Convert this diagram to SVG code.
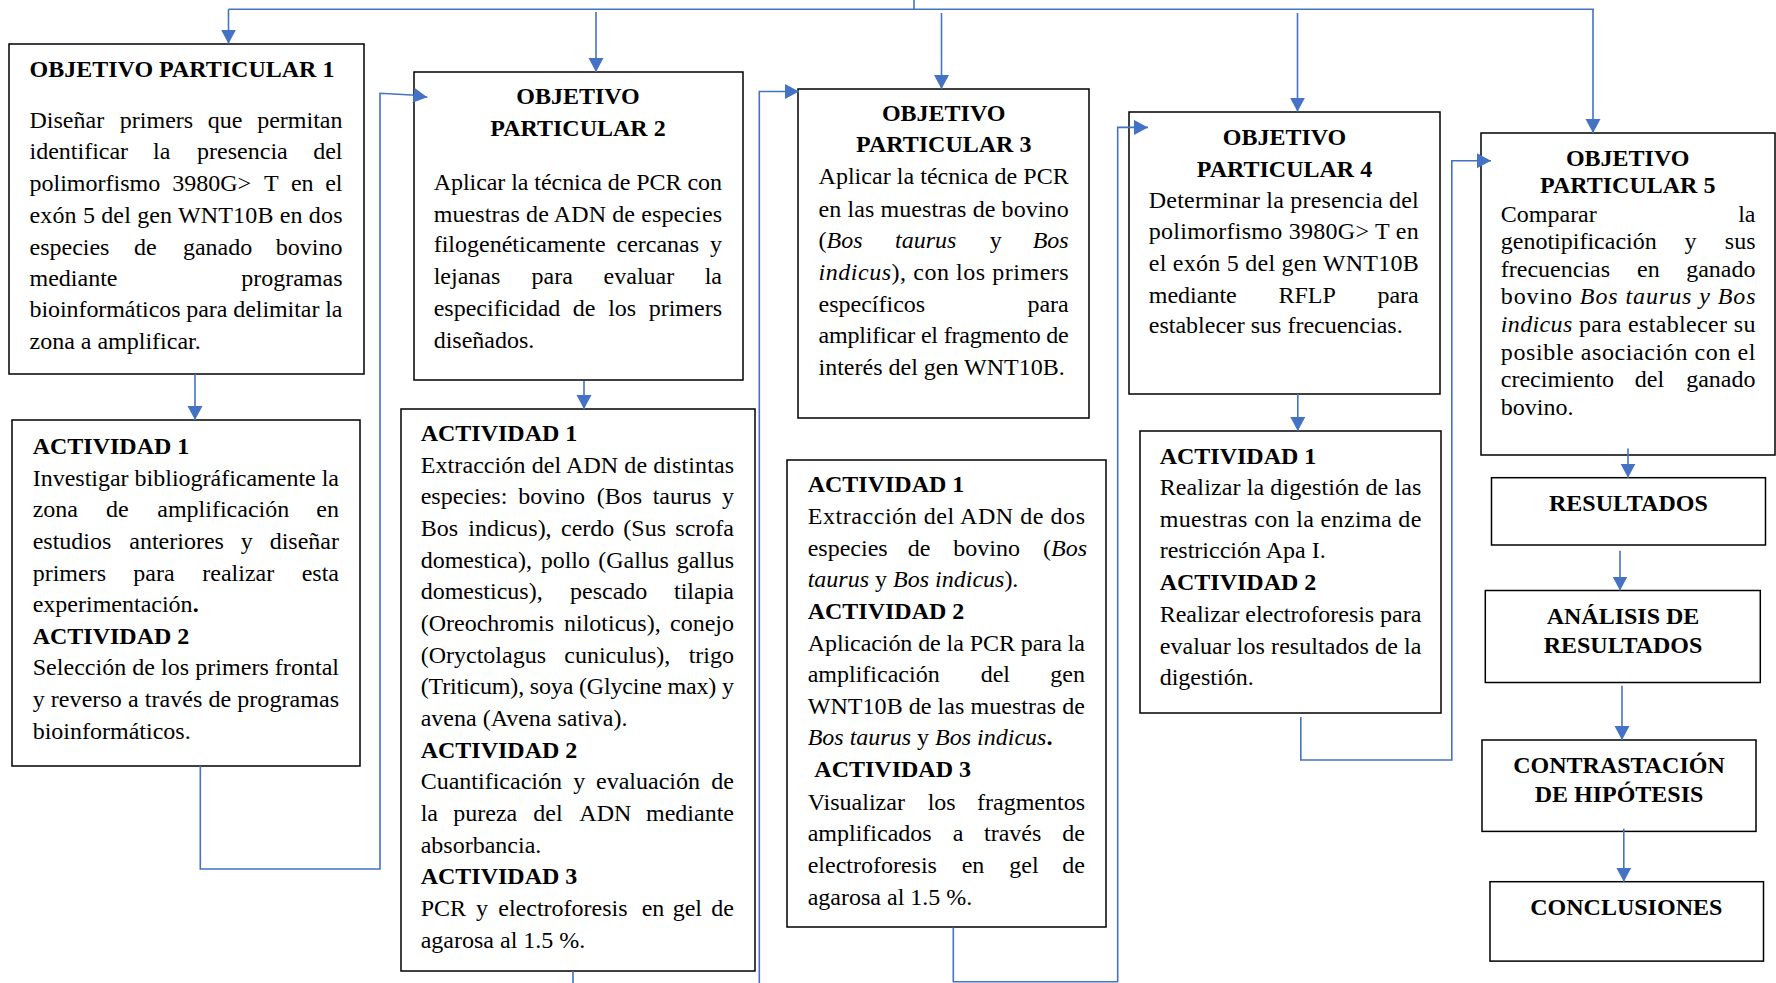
<svg xmlns="http://www.w3.org/2000/svg" width="1776" height="983" viewBox="0 0 1776 983">
<style>
.n rect{fill:#fff;stroke:#000;stroke-width:1.5}
text{font-family:"Liberation Serif","Times New Roman",serif;font-size:24px;fill:#000}
.b{font-weight:bold}
.i{font-style:italic}
.m{text-anchor:middle}
.e{text-anchor:end}
.cn path{fill:none;stroke:#4472C4;stroke-width:1.6}
.cn .a{marker-end:url(#ah)}
</style>
<defs>
<marker id="ah" markerUnits="userSpaceOnUse" markerWidth="16" markerHeight="16" refX="14" refY="7.5" orient="auto"><path d="M0,0 L14,7.5 L0,15 z" fill="#4472C4"/></marker>
</defs>
<rect x="0" y="0" width="1776" height="983" fill="#fff"/>

<g id="op1" class="n">
<rect x="9" y="44" width="355" height="330"/>
<text class="b" x="29.5" y="76.7">OBJETIVO PARTICULAR 1</text>
<text y="128.3"><tspan x="29.5">Diseñar</tspan><tspan x="119.8">primers</tspan><tspan x="207.8">que</tspan><tspan x="342.5" class="e">permitan</tspan></text>
<text y="159.3"><tspan x="29.5">identificar</tspan><tspan x="153.1">la</tspan><tspan x="197.1">presencia</tspan><tspan x="342.5" class="e">del</tspan></text>
<text y="190.7"><tspan x="29.5">polimorfismo</tspan><tspan x="172.2">3980G&gt;</tspan><tspan x="264">T</tspan><tspan x="290.9">en</tspan><tspan x="342.5" class="e">el</tspan></text>
<text x="29.5" y="222.7" textLength="313" lengthAdjust="spacing">exón 5 del gen WNT10B en dos</text>
<text y="255"><tspan x="29.5">especies</tspan><tspan x="134">de</tspan><tspan x="182.9">ganado</tspan><tspan x="342.5" class="e">bovino</tspan></text>
<text y="286"><tspan x="29.5">mediante</tspan><tspan x="342.5" class="e">programas</tspan></text>
<text x="29.5" y="317.3" textLength="313" lengthAdjust="spacing">bioinformáticos para delimitar la</text>
<text x="29.5" y="349.3">zona a amplificar.</text>
</g>

<g id="op2" class="n">
<rect x="414" y="72" width="329" height="308"/>
<text class="b m" x="578" y="104">OBJETIVO</text>
<text class="b m" x="578" y="136">PARTICULAR 2</text>
<text x="433.7" y="190" textLength="288.3" lengthAdjust="spacing">Aplicar la técnica de PCR con</text>
<text x="433.7" y="221.7" textLength="288.3" lengthAdjust="spacing">muestras de ADN de especies</text>
<text y="252.3"><tspan x="433.7">filogenéticamente</tspan><tspan x="616.5">cercanas</tspan><tspan x="722" class="e">y</tspan></text>
<text y="284.3"><tspan x="433.7">lejanas</tspan><tspan x="531.5">para</tspan><tspan x="603.6">evaluar</tspan><tspan x="722" class="e">la</tspan></text>
<text y="316"><tspan x="433.7">especificidad</tspan><tspan x="572.8">de</tspan><tspan x="608.2">los</tspan><tspan x="722" class="e">primers</tspan></text>
<text x="433.7" y="347.7">diseñados.</text>
</g>

<g id="op3" class="n">
<rect x="798" y="89" width="291" height="329"/>
<text class="b m" x="943.7" y="120.7">OBJETIVO</text>
<text class="b m" x="943.7" y="151.7">PARTICULAR 3</text>
<text x="818.5" y="184" textLength="250.2" lengthAdjust="spacing">Aplicar la técnica de PCR</text>
<text x="818.5" y="216.7" textLength="250.2" lengthAdjust="spacing">en las muestras de bovino</text>
<text y="248.3"><tspan x="818.5">(</tspan><tspan class="i">Bos</tspan><tspan x="895.1" class="i">taurus</tspan><tspan x="989.7">y</tspan><tspan x="1068.7" class="e i">Bos</tspan></text>
<text x="818.5" y="280" textLength="250.2" lengthAdjust="spacing"><tspan class="i">indicus</tspan>), con los primers</text>
<text y="311.7"><tspan x="818.5">específicos</tspan><tspan x="1068.7" class="e">para</tspan></text>
<text x="818.5" y="343.3" textLength="250.2" lengthAdjust="spacing">amplificar el fragmento de</text>
<text x="818.5" y="375">interés del gen WNT10B.</text>
</g>

<g id="op4" class="n">
<rect x="1129" y="112" width="311" height="282"/>
<text class="b m" x="1284.5" y="145">OBJETIVO</text>
<text class="b m" x="1284.5" y="176.7">PARTICULAR 4</text>
<text x="1148.8" y="208.3" textLength="269.9" lengthAdjust="spacing">Determinar la presencia del</text>
<text x="1148.8" y="239.3" textLength="269.9" lengthAdjust="spacing">polimorfismo 3980G&gt; T en</text>
<text x="1148.8" y="270.7" textLength="269.9" lengthAdjust="spacing">el exón 5 del gen WNT10B</text>
<text y="302.7"><tspan x="1148.8">mediante</tspan><tspan x="1278.4">RFLP</tspan><tspan x="1418.7" class="e">para</tspan></text>
<text x="1148.8" y="333.3">establecer sus frecuencias.</text>
</g>

<g id="op5" class="n">
<rect x="1481" y="133" width="294" height="322"/>
<text class="b m" x="1627.7" y="165.7">OBJETIVO</text>
<text class="b m" x="1627.7" y="193.3">PARTICULAR 5</text>
<text y="221.7"><tspan x="1500.8">Comparar</tspan><tspan x="1755.5" class="e">la</tspan></text>
<text y="249.3"><tspan x="1500.8">genotipificación</tspan><tspan x="1684.5">y</tspan><tspan x="1755.5" class="e">sus</tspan></text>
<text y="276.7"><tspan x="1500.8">frecuencias</tspan><tspan x="1637">en</tspan><tspan x="1755.5" class="e">ganado</tspan></text>
<text x="1500.8" y="304.3" textLength="254.7" lengthAdjust="spacing">bovino <tspan class="i">Bos taurus y Bos</tspan></text>
<text x="1500.8" y="331.7" textLength="254.7" lengthAdjust="spacing"><tspan class="i">indicus</tspan> para establecer su</text>
<text x="1500.8" y="360" textLength="254.7" lengthAdjust="spacing">posible asociación con el</text>
<text y="387.3"><tspan x="1500.8">crecimiento</tspan><tspan x="1634.8">del</tspan><tspan x="1755.5" class="e">ganado</tspan></text>
<text x="1500.8" y="414.6">bovino.</text>
</g>

<g id="act1" class="n">
<rect x="12" y="420" width="348" height="346"/>
<text class="b" x="32.7" y="453.9">ACTIVIDAD 1</text>
<text x="32.7" y="485.5" textLength="306.3" lengthAdjust="spacing">Investigar bibliográficamente la</text>
<text y="517.1"><tspan x="32.7">zona</tspan><tspan x="106">de</tspan><tspan x="157.3">amplificación</tspan><tspan x="339" class="e">en</tspan></text>
<text y="548.7"><tspan x="32.7">estudios</tspan><tspan x="129.3">anteriores</tspan><tspan x="240.7">y</tspan><tspan x="339" class="e">diseñar</tspan></text>
<text y="581"><tspan x="32.7">primers</tspan><tspan x="133.3">para</tspan><tspan x="202.3">realizar</tspan><tspan x="339" class="e">esta</tspan></text>
<text x="32.7" y="611.9">experimentación<tspan class="b">.</tspan></text>
<text class="b" x="32.7" y="643.5">ACTIVIDAD 2</text>
<text x="32.7" y="675.1" textLength="306.3" lengthAdjust="spacing">Selección de los primers frontal</text>
<text x="32.7" y="707.4" textLength="306.3" lengthAdjust="spacing">y reverso a través de programas</text>
<text x="32.7" y="739">bioinformáticos.</text>
</g>

<g id="act2" class="n">
<rect x="401" y="409" width="354" height="562"/>
<text class="b" x="420.7" y="441">ACTIVIDAD 1</text>
<text x="420.7" y="472.7" textLength="313.3" lengthAdjust="spacing">Extracción del ADN de distintas</text>
<text y="504.3"><tspan x="420.7">especies:</tspan><tspan x="518.3">bovino</tspan><tspan x="596.7">(Bos</tspan><tspan x="652.7">taurus</tspan><tspan x="734" class="e">y</tspan></text>
<text y="536"><tspan x="420.7">Bos</tspan><tspan x="468.3">indicus),</tspan><tspan x="561">cerdo</tspan><tspan x="623.3">(Sus</tspan><tspan x="734" class="e">scrofa</tspan></text>
<text y="567.7"><tspan x="420.7">domestica),</tspan><tspan x="540.7">pollo</tspan><tspan x="598.3">(Gallus</tspan><tspan x="734" class="e">gallus</tspan></text>
<text y="599.4"><tspan x="420.7">domesticus),</tspan><tspan x="570">pescado</tspan><tspan x="734" class="e">tilapia</tspan></text>
<text y="631"><tspan x="420.7">(Oreochromis</tspan><tspan x="564">niloticus),</tspan><tspan x="734" class="e">conejo</tspan></text>
<text y="662.7"><tspan x="420.7">(Oryctolagus</tspan><tspan x="564.3">cuniculus),</tspan><tspan x="734" class="e">trigo</tspan></text>
<text x="420.7" y="694.4" textLength="313.3" lengthAdjust="spacing">(Triticum), soya (Glycine max) y</text>
<text x="420.7" y="726">avena (Avena sativa).</text>
<text class="b" x="420.7" y="757.7">ACTIVIDAD 2</text>
<text y="789.4"><tspan x="420.7">Cuantificación</tspan><tspan x="573.3">y</tspan><tspan x="596">evaluación</tspan><tspan x="734" class="e">de</tspan></text>
<text y="821"><tspan x="420.7">la</tspan><tspan x="453.3">pureza</tspan><tspan x="533.3">del</tspan><tspan x="579.3">ADN</tspan><tspan x="734" class="e">mediante</tspan></text>
<text x="420.7" y="852.7">absorbancia.</text>
<text class="b" x="420.7" y="884.4">ACTIVIDAD 3</text>
<text y="916"><tspan x="420.7">PCR</tspan><tspan x="476">y</tspan><tspan x="498.3">electroforesis</tspan><tspan x="641.7">en</tspan><tspan x="672.7">gel</tspan><tspan x="734" class="e">de</tspan></text>
<text x="420.7" y="947.7">agarosa al 1.5 %.</text>
</g>

<g id="act3" class="n">
<rect x="787" y="460" width="319" height="467"/>
<text class="b" x="807.7" y="491.8">ACTIVIDAD 1</text>
<text x="807.7" y="524.1" textLength="277.3" lengthAdjust="spacing">Extracción del ADN de dos</text>
<text y="555.7"><tspan x="807.7">especies</tspan><tspan x="907.7">de</tspan><tspan x="953.3">bovino</tspan><tspan x="1043">(</tspan><tspan class="i">Bos</tspan></text>
<text x="807.7" y="587"><tspan class="i">taurus</tspan> y <tspan class="i">Bos indicus</tspan>).</text>
<text class="b" x="807.7" y="618.6">ACTIVIDAD 2</text>
<text x="807.7" y="650.9" textLength="277.3" lengthAdjust="spacing">Aplicación de la PCR para la</text>
<text y="682.1"><tspan x="807.7">amplificación</tspan><tspan x="980.7">del</tspan><tspan x="1085" class="e">gen</tspan></text>
<text x="807.7" y="713.7" textLength="277.3" lengthAdjust="spacing">WNT10B de las muestras de</text>
<text x="807.7" y="745"><tspan class="i">Bos taurus</tspan> y <tspan class="i">Bos indicus</tspan><tspan class="b">.</tspan></text>
<text class="b" x="814.3" y="777.3">ACTIVIDAD 3</text>
<text y="809.6"><tspan x="807.7">Visualizar</tspan><tspan x="927.7">los</tspan><tspan x="1085" class="e">fragmentos</tspan></text>
<text y="840.8"><tspan x="807.7">amplificados</tspan><tspan x="952.7">a</tspan><tspan x="984">través</tspan><tspan x="1085" class="e">de</tspan></text>
<text y="873.1"><tspan x="807.7">electroforesis</tspan><tspan x="961.7">en</tspan><tspan x="1009.3">gel</tspan><tspan x="1085" class="e">de</tspan></text>
<text x="807.7" y="904.7">agarosa al 1.5 %.</text>
</g>

<g id="act4" class="n">
<rect x="1140" y="431" width="301" height="282"/>
<text class="b" x="1159.7" y="463.8">ACTIVIDAD 1</text>
<text x="1159.7" y="494.8" textLength="261.6" lengthAdjust="spacing">Realizar la digestión de las</text>
<text x="1159.7" y="526.9" textLength="261.6" lengthAdjust="spacing">muestras con la enzima de</text>
<text x="1159.7" y="558.3">restricción Apa I.</text>
<text class="b" x="1159.7" y="590.4">ACTIVIDAD 2</text>
<text x="1159.7" y="621.5" textLength="261.6" lengthAdjust="spacing">Realizar electroforesis para</text>
<text x="1159.7" y="653.6" textLength="261.6" lengthAdjust="spacing">evaluar los resultados de la</text>
<text x="1159.7" y="685">digestión.</text>
</g>

<g id="resultados" class="n">
<rect x="1491.5" y="477.7" width="274" height="67.3"/>
<text class="b m" x="1628.4" y="511">RESULTADOS</text>
</g>

<g id="analisis" class="n">
<rect x="1485.3" y="590.5" width="275" height="92"/>
<text class="b m" x="1623" y="623.7">ANÁLISIS DE</text>
<text class="b m" x="1623" y="652.9">RESULTADOS</text>
</g>

<g id="contrastacion" class="n">
<rect x="1482" y="740" width="274" height="91.4"/>
<text class="b m" x="1619" y="772.8">CONTRASTACIÓN</text>
<text class="b m" x="1619" y="802.3">DE HIPÓTESIS</text>
</g>

<g id="conclusiones" class="n">
<rect x="1490" y="881.7" width="273.5" height="79.4"/>
<text class="b m" x="1626.3" y="914.6">CONCLUSIONES</text>
</g>

<g id="connectors" class="cn">
<path d="M914,0 V9.3"/>
<path d="M228.5,9.3 H1594"/>
<path class="a" d="M228.5,9.3 V43.7"/>
<path class="a" d="M596,12 V72"/>
<path class="a" d="M941.5,13 V89"/>
<path class="a" d="M1297.5,13 V111.7"/>
<path class="a" d="M1593,9.3 V133"/>
<path class="a" d="M195,374 V420"/>
<path class="a" d="M200.3,766 V869 H380 V93.3 L411.7,95 L427.3,97.3"/>
<path class="a" d="M584,381 V409"/>
<path class="a" d="M573,971 V995 H759.3 V91.5 H799"/>
<path class="a" d="M953.3,927.4 V981.7 H1117.7 V127.4 H1148"/>
<path class="a" d="M1297.8,394 V431"/>
<path class="a" d="M1300.8,717 V760 H1451.8 V160.8 H1491"/>
<path class="a" d="M1628,448.6 V477.7"/>
<path class="a" d="M1620,550.7 V590.5"/>
<path class="a" d="M1622,685.8 V740"/>
<path class="a" d="M1623.8,828.7 V881.7"/>
</g>
</svg>
